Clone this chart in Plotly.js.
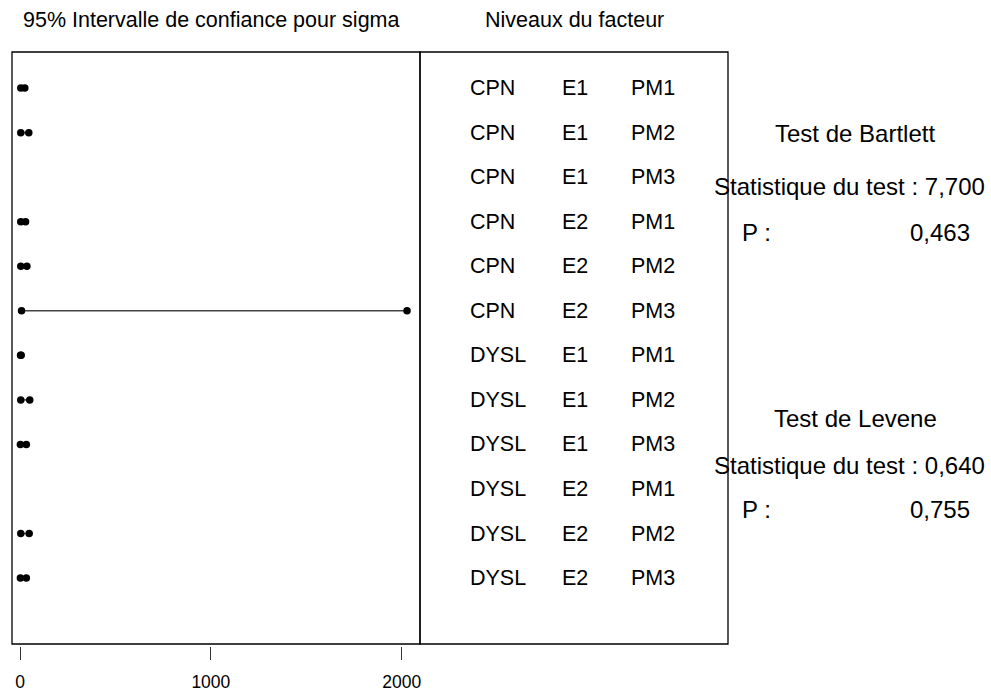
<!DOCTYPE html>
<html>
<head>
<meta charset="utf-8">
<script src="https://cdn.plot.ly/plotly-3.0.1.min.js"></script>
<style>html,body{margin:0;padding:0;background:#fff;}</style>
</head>
<body>
<div id="chart" style="width:991px;height:693px;"></div>
<script>
// ---- data ----
const factor1 = ['CPN','CPN','CPN','CPN','CPN','CPN','DYSL','DYSL','DYSL','DYSL','DYSL','DYSL'];
const factor2 = ['E1','E1','E1','E2','E2','E2','E1','E1','E1','E2','E2','E2'];
const factor3 = ['PM1','PM2','PM3','PM1','PM2','PM3','PM1','PM2','PM3','PM1','PM2','PM3'];
const sigmaLower = [4, 4, null, 4, 4, 8, 3, 4, 2, null, 4, 2];
const sigmaUpper = [25, 46, null, 29, 36, 2028, 6, 51, 33, null, 48, 33];
const xTicks = [0, 1000, 2000];
const bartlettStat = '7,700';
const bartlettP = '0,463';
const leveneStat = '0,640';
const leveneP = '0,755';

// ---- build traces ----
const W = 991, H = 693;
const px = v => v / W;
const py = v => 1 - v / H;
const rows = factor1.map((_, i) => i + 1);

const xs = [], ys = [];
rows.forEach((r, i) => {
  if (sigmaLower[i] === null) return;
  xs.push(sigmaLower[i], sigmaUpper[i], null);
  ys.push(r, r, null);
});

const traces = [{
  type: 'scatter', mode: 'lines+markers',
  x: xs, y: ys, xaxis: 'x', yaxis: 'y',
  line: {color: '#444', width: 1.5},
  marker: {color: '#000', size: 7.5},
  connectgaps: false, hoverinfo: 'skip', showlegend: false
}];

const font = {family: 'Liberation Sans, Arial, sans-serif', color: '#000'};
const annotations = [];
const colX = [0.155, 0.455, 0.677];
rows.forEach((r, i) => {
  [factor1[i], factor2[i], factor3[i]].forEach((t, k) => {
    annotations.push({xref: 'x2', yref: 'y', x: colX[k], y: r, text: t,
      showarrow: false, xanchor: 'left', yanchor: 'middle',
      font: Object.assign({size: 21.5}, font)});
  });
});

function txt(x, y, t, anchor, size) {
  annotations.push({xref: 'paper', yref: 'paper', x: px(x), y: py(y), text: t,
    showarrow: false, xanchor: anchor, yanchor: 'middle',
    font: Object.assign({size: size}, font)});
}
txt(211, 20, '95% Intervalle de confiance pour sigma', 'center', 21.5);
txt(574, 20, 'Niveaux du facteur', 'center', 21.5);
txt(855, 133, 'Test de Bartlett', 'center', 24);
txt(712, 187, 'Statistique du test : ' + bartlettStat, 'left', 24);
txt(740, 232, 'P :', 'left', 24);
txt(972, 232, bartlettP, 'right', 24);
txt(855, 418, 'Test de Levene', 'center', 24);
txt(712, 465, 'Statistique du test : ' + leveneStat, 'left', 24);
txt(740, 510, 'P :', 'left', 24);
txt(972, 510, leveneP, 'right', 24);

const layout = {
  width: W, height: H,
  margin: {l: 0, r: 0, t: 0, b: 0},
  paper_bgcolor: '#fff', plot_bgcolor: '#fff',
  showlegend: false,
  xaxis: {
    domain: [px(12), px(420)], range: [-42, 2096],
    anchor: 'free', position: py(646),
    tickvals: xTicks, ticktext: xTicks.map(String),
    ticks: 'outside', ticklen: 13, tickwidth: 1, tickcolor: '#333',
    ticklabelstandoff: 7,
    showgrid: false, zeroline: false, showline: false,
    tickfont: Object.assign({size: 17.5}, font), fixedrange: true
  },
  yaxis: {
    domain: [py(644), py(52)], range: [13.48, 0.19],
    showticklabels: false, ticks: '', showgrid: false, zeroline: false,
    showline: false, fixedrange: true
  },
  xaxis2: {
    domain: [px(420), px(728)], range: [0, 1], anchor: 'y',
    visible: false, fixedrange: true
  },
  shapes: [
    {type: 'rect', xref: 'paper', yref: 'paper', x0: px(12), x1: px(420), y0: py(644), y1: py(52),
     line: {color: '#000', width: 1.3}},
    {type: 'rect', xref: 'paper', yref: 'paper', x0: px(420), x1: px(728), y0: py(644), y1: py(52),
     line: {color: '#000', width: 1.3}}
  ],
  annotations: annotations
};

Plotly.newPlot('chart', traces, layout, {displayModeBar: false, staticPlot: true});
</script>
</body>
</html>
